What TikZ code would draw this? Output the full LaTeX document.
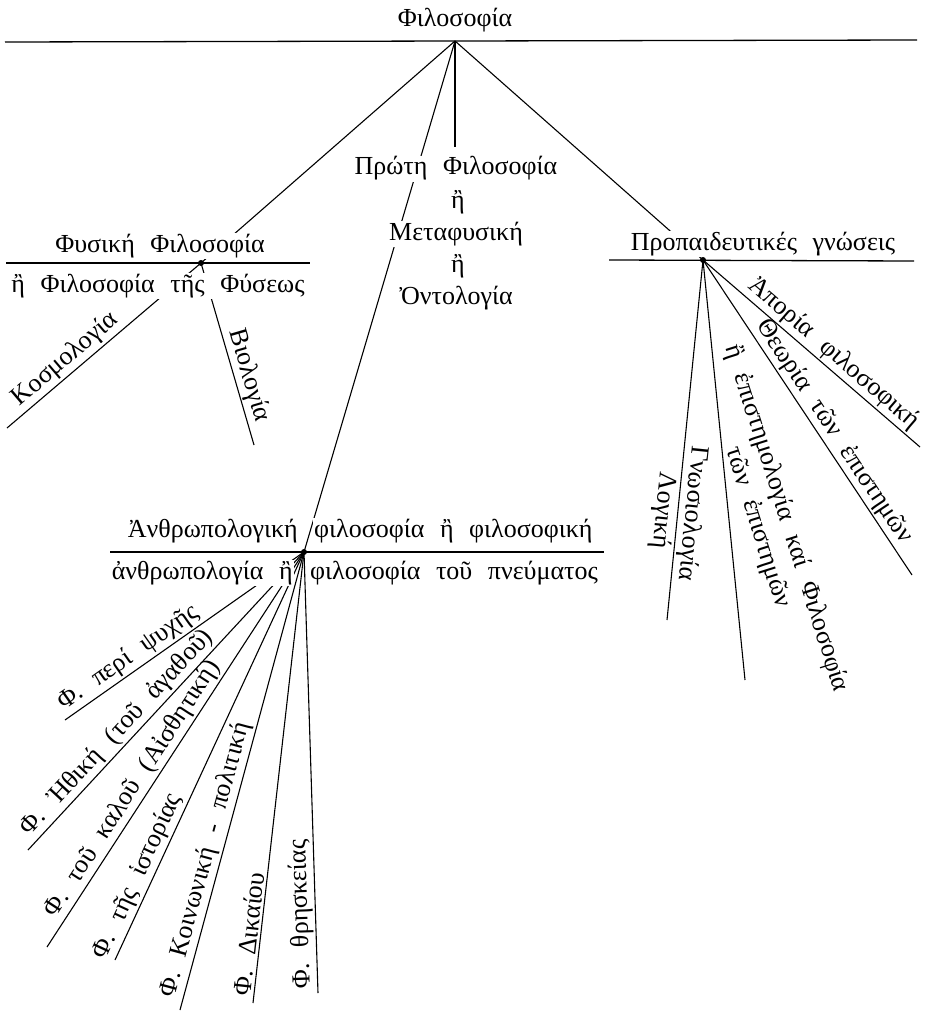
\documentclass[tikz,border=0pt]{standalone}
\usepackage{fontspec}
\setmainfont{Liberation Serif}[WordSpace=2.4]
\tikzset{
  heading/.style={font=\fontsize{26}{30}\selectfont,inner sep=1pt,fill=white},
  leaf/.style={font=\fontsize{26}{30}\selectfont,inner sep=2pt},
  rule/.style={draw,line width=1.3pt},
  branch/.style={draw,line width=1.1pt},
  hub/.style={circle,fill,inner sep=0pt,minimum size=6pt}
}
\begin{document}
\begin{tikzpicture}[x=1pt,y=-1pt]
  \useasboundingbox (0,0) rectangle (929,1011);
  \coordinate (root) at (455,41);
  \coordinate (phys) at (201,263);
  \coordinate (prop) at (703,260);
  \coordinate (anth) at (304,552);
  \coordinate (metatop) at (455,147);
  \coordinate (kosm) at (7,428);
  \coordinate (bio) at (254,445);
  \coordinate (apor) at (920,447);
  \coordinate (theo) at (912,575);
  \coordinate (epist) at (745,680);
  \coordinate (logic) at (667,620);
  \coordinate (psyche) at (65,720);
  \coordinate (ethic) at (28,850);
  \coordinate (aesth) at (47,947);
  \coordinate (hist) at (115,960);
  \coordinate (socpol) at (180,1010);
  \coordinate (law) at (253,1003);
  \coordinate (relig) at (318,993);

  \draw[branch] (root) -- (phys);
  \draw[branch] (root) -- (metatop);
  \draw[branch] (root) -- (anth);
  \draw[branch] (root) -- (prop);

  \draw[branch] (kosm) -- node[leaf,sloped,above,pos=0.35] (kosmt) {Κοσμολογία} (phys);
  \draw[branch] (phys) -- node[leaf,sloped,above,pos=0.64] (biot) {Βιολογία} (bio);

  \draw[branch] (prop) -- node[leaf,sloped,above,pos=0.56] (aport) {Ἀπορία φιλοσοφική} (apor);
  \draw[branch] (prop) -- node[leaf,sloped,above,pos=0.57] (theot) {Θεωρία τῶν ἐπιστημῶν} (theo);
  \draw[branch] (prop) -- (epist);
  \draw[branch] (prop) -- node[leaf,sloped,allow upside down,above,pos=0.70] (gnost) {Γνωσιολογία}
    node[leaf,sloped,allow upside down,below,pos=0.70] (logict) {Λογική} (logic);
  \node[leaf,rotate=-72.5,align=center] (epistt) at (772,523)
    {ἢ ἐπιστημολογία καί Φιλοσοφία\\τῶν ἐπιστημῶν};

  \draw[branch] (psyche) -- node[leaf,sloped,above,pos=0.30] (psychet) {Φ. περί ψυχῆς} (anth);
  \draw[branch] (ethic) -- node[leaf,sloped,above,pos=0.36] (ethict) {Φ. Ἠθική (τοῦ ἀγαθοῦ)} (anth);
  \draw[branch] (aesth) -- node[leaf,sloped,above,pos=0.38] (aestht) {Φ. τοῦ καλοῦ (Αἰσθητική)} (anth);
  \draw[branch] (hist) -- node[leaf,sloped,above,pos=0.19] (histt) {Φ. τῆς ἱστορίας} (anth);
  \draw[branch] (socpol) -- node[leaf,sloped,above,pos=0.32] (socpolt) {Φ. Κοινωνική - πολιτική} (anth);
  \draw[branch] (law) -- node[leaf,sloped,above,pos=0.15] (lawt) {Φ. Δικαίου} (anth);
  \draw[branch] (relig) -- node[leaf,sloped,allow upside down,above,pos=0.18] (religt) {Φ. θρησκείας} (anth);

  \node[heading,anchor=base] (philo) at (455,27) {Φιλοσοφία};
  \node[heading,anchor=base] (phys1) at (160,252) {Φυσική Φιλοσοφία};
  \node[heading,anchor=base] (phys2) at (158,292) {ἢ Φιλοσοφία τῆς Φύσεως};
  \node[heading,anchor=base] (meta1) at (456,175) {Πρώτη Φιλοσοφία};
  \node[heading,anchor=base] (meta2) at (458,208) {ἢ};
  \node[heading,anchor=base] (meta3) at (456,240) {Μεταφυσική};
  \node[heading,anchor=base] (meta4) at (458,272) {ἢ};
  \node[heading,anchor=base] (meta5) at (456,304) {Ὀντολογία};
  \node[heading,anchor=base] (prop1) at (763,250) {Προπαιδευτικές γνώσεις};
  \node[heading,anchor=base east] (anth1) at (299,537) {Ἀνθρωπολογική};
  \node[heading,anchor=base west] (anth2) at (313,537) {φιλοσοφία ἢ φιλοσοφική};
  \node[heading,anchor=base east] (anth3) at (294,579) {ἀνθρωπολογία ἢ};
  \node[heading,anchor=base west] (anth4) at (309,579) {φιλοσοφία τοῦ πνεύματος};

  \draw[rule] (5,42) -- (917,40);
  \draw[rule] (6,263) -- (310,263);
  \draw[rule] (609,260) -- (914,261);
  \draw[rule] (110,552) -- (604,552);

  \node[hub] (physdot) at (phys) {};
  \node[hub] (propdot) at (prop) {};
  \node[hub] (anthdot) at (anth) {};
\end{tikzpicture}
\end{document}
